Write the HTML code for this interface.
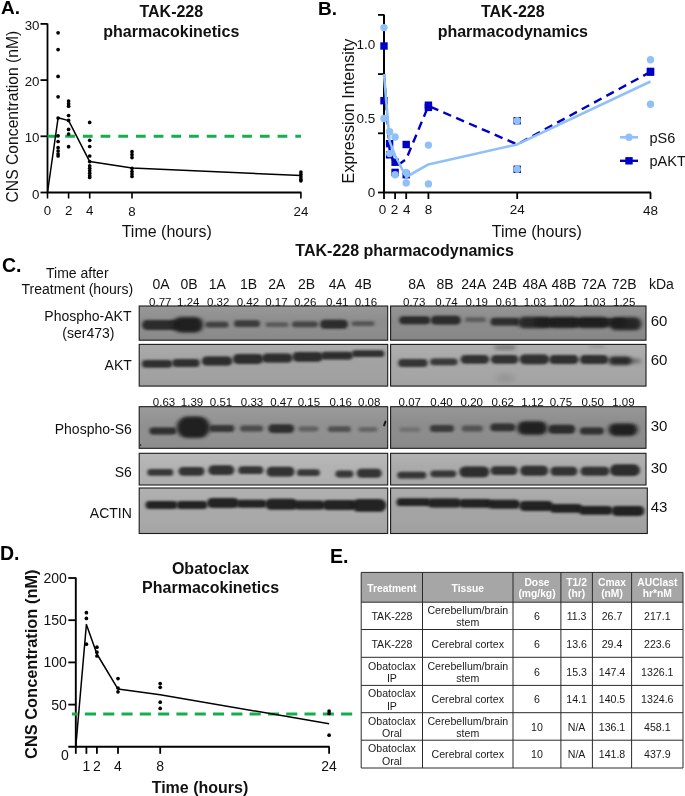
<!DOCTYPE html>
<html><head><meta charset="utf-8"><title>Figure</title>
<style>html,body{margin:0;padding:0;background:#fff}svg{display:block}</style></head>
<body>
<svg width="685" height="796" viewBox="0 0 685 796" font-family="Liberation Sans, Arial, sans-serif">
<defs>
<filter id="b1" x="-20%" y="-60%" width="140%" height="220%"><feGaussianBlur stdDeviation="1.6 1.25"/></filter>
<filter id="b2" x="-20%" y="-60%" width="140%" height="220%"><feGaussianBlur stdDeviation="2.2 1.6"/></filter>
<filter id="b3" x="-30%" y="-80%" width="160%" height="260%"><feGaussianBlur stdDeviation="3 2.2"/></filter>
<linearGradient id="gtop" x1="0" y1="0" x2="0" y2="1"><stop offset="0" stop-color="#fff" stop-opacity="0.10"/><stop offset="0.45" stop-color="#fff" stop-opacity="0"/><stop offset="1" stop-color="#000" stop-opacity="0.03"/></linearGradient>
</defs>
<rect width="685" height="796" fill="#fff"/>
<g opacity="0.999">
<g id="panelA">
<text x="1.0" y="14.2" font-size="19" font-weight="bold" text-anchor="start" fill="#000" >A.</text>
<text x="171.3" y="16.9" font-size="16" font-weight="bold" text-anchor="middle" fill="#111" >TAK-228</text>
<text x="171.3" y="36.5" font-size="16" font-weight="bold" text-anchor="middle" fill="#111" >pharmacokinetics</text>
<path d="M47.5 23.400000000000006 V192.5 H301.44" fill="none" stroke="#000" stroke-width="1.8"/>
<line x1="40.5" x2="47.5" y1="192.5" y2="192.5" stroke="#000" stroke-width="1.8"/>
<text x="39.5" y="198.5" font-size="13.3" font-weight="normal" text-anchor="end" fill="#111" >0</text>
<line x1="40.5" x2="47.5" y1="136.3" y2="136.3" stroke="#000" stroke-width="1.8"/>
<text x="39.5" y="142.3" font-size="13.3" font-weight="normal" text-anchor="end" fill="#111" >10</text>
<line x1="40.5" x2="47.5" y1="80.1" y2="80.1" stroke="#000" stroke-width="1.8"/>
<text x="39.5" y="86.1" font-size="13.3" font-weight="normal" text-anchor="end" fill="#111" >20</text>
<line x1="40.5" x2="47.5" y1="23.9" y2="23.9" stroke="#000" stroke-width="1.8"/>
<text x="39.5" y="29.9" font-size="13.3" font-weight="normal" text-anchor="end" fill="#111" >30</text>
<line x1="47.5" x2="47.5" y1="192.5" y2="198.5" stroke="#000" stroke-width="1.6"/>
<text x="47.5" y="215.1" font-size="13.3" font-weight="normal" text-anchor="middle" fill="#111" >0</text>
<line x1="68.6" x2="68.6" y1="192.5" y2="198.5" stroke="#000" stroke-width="1.6"/>
<text x="68.6" y="215.1" font-size="13.3" font-weight="normal" text-anchor="middle" fill="#111" >2</text>
<line x1="89.7" x2="89.7" y1="192.5" y2="198.5" stroke="#000" stroke-width="1.6"/>
<text x="89.7" y="215.1" font-size="13.3" font-weight="normal" text-anchor="middle" fill="#111" >4</text>
<line x1="132.0" x2="132.0" y1="192.5" y2="198.5" stroke="#000" stroke-width="1.6"/>
<text x="132.0" y="215.7" font-size="13.3" font-weight="normal" text-anchor="middle" fill="#111" >8</text>
<line x1="300.9" x2="300.9" y1="192.5" y2="198.5" stroke="#000" stroke-width="1.6"/>
<text x="300.9" y="215.7" font-size="13.3" font-weight="normal" text-anchor="middle" fill="#111" >24</text>
<text x="166.7" y="237.3" font-size="16" font-weight="normal" text-anchor="middle" fill="#111" >Time (hours)</text>
<text transform="translate(18.3,116.6) rotate(-90)" font-size="15.7" text-anchor="middle" fill="#111">CNS Concentration (nM)</text>
<line x1="47.5" x2="300.94" y1="136.3" y2="136.3" stroke="#14ae4f" stroke-width="3" stroke-dasharray="9.7 8"/>
<polyline fill="none" stroke="#000" stroke-width="1.5" stroke-linejoin="round" points="47.5,192.5 58.1,117.8 68.6,120.6 89.7,161.6 132.0,168.1 300.9,175.6"/>
<circle cx="58.1" cy="32.8" r="1.85" fill="#000"/>
<circle cx="58.1" cy="49.6" r="1.85" fill="#000"/>
<circle cx="58.1" cy="76.4" r="1.85" fill="#000"/>
<circle cx="58.1" cy="96.8" r="1.85" fill="#000"/>
<circle cx="58.1" cy="118" r="1.85" fill="#000"/>
<circle cx="58.1" cy="135.8" r="1.85" fill="#000"/>
<circle cx="58.1" cy="141.5" r="1.85" fill="#000"/>
<circle cx="58.1" cy="147.7" r="1.85" fill="#000"/>
<circle cx="58.1" cy="151" r="1.85" fill="#000"/>
<circle cx="58.1" cy="154" r="1.85" fill="#000"/>
<circle cx="58.1" cy="156" r="1.85" fill="#000"/>
<circle cx="68.6" cy="101" r="1.85" fill="#000"/>
<circle cx="68.6" cy="103.7" r="1.85" fill="#000"/>
<circle cx="68.6" cy="106.2" r="1.85" fill="#000"/>
<circle cx="68.6" cy="115.5" r="1.85" fill="#000"/>
<circle cx="68.6" cy="120.4" r="1.85" fill="#000"/>
<circle cx="68.6" cy="129.4" r="1.85" fill="#000"/>
<circle cx="68.6" cy="134" r="1.85" fill="#000"/>
<circle cx="68.6" cy="146.7" r="1.85" fill="#000"/>
<circle cx="89.7" cy="122.4" r="1.85" fill="#000"/>
<circle cx="89.7" cy="140.3" r="1.85" fill="#000"/>
<circle cx="89.7" cy="146.5" r="1.85" fill="#000"/>
<circle cx="89.7" cy="156" r="1.85" fill="#000"/>
<circle cx="89.7" cy="161.6" r="1.85" fill="#000"/>
<circle cx="89.7" cy="165.8" r="1.85" fill="#000"/>
<circle cx="89.7" cy="168.3" r="1.85" fill="#000"/>
<circle cx="89.7" cy="170.8" r="1.85" fill="#000"/>
<circle cx="89.7" cy="173.3" r="1.85" fill="#000"/>
<circle cx="89.7" cy="175.8" r="1.85" fill="#000"/>
<circle cx="89.7" cy="177.5" r="1.85" fill="#000"/>
<circle cx="132.0" cy="151.7" r="1.85" fill="#000"/>
<circle cx="132.0" cy="154.7" r="1.85" fill="#000"/>
<circle cx="132.0" cy="157.6" r="1.85" fill="#000"/>
<circle cx="132.0" cy="168.3" r="1.85" fill="#000"/>
<circle cx="132.0" cy="171.5" r="1.85" fill="#000"/>
<circle cx="132.0" cy="174" r="1.85" fill="#000"/>
<circle cx="132.0" cy="176.5" r="1.85" fill="#000"/>
<circle cx="300.9" cy="172" r="1.85" fill="#000"/>
<circle cx="300.9" cy="174.4" r="1.85" fill="#000"/>
<circle cx="300.9" cy="177" r="1.85" fill="#000"/>
<circle cx="300.9" cy="179.4" r="1.85" fill="#000"/>
<circle cx="300.9" cy="180.8" r="1.85" fill="#000"/>
</g>
<g id="panelB">
<text x="318.0" y="15.4" font-size="19" font-weight="bold" text-anchor="start" fill="#000" >B.</text>
<text x="512.8" y="17.2" font-size="16" font-weight="bold" text-anchor="middle" fill="#111" >TAK-228</text>
<text x="512.8" y="36.7" font-size="16" font-weight="bold" text-anchor="middle" fill="#111" >pharmacodynamics</text>
<text x="536.9" y="236.5" font-size="16" font-weight="normal" text-anchor="middle" fill="#111" >Time (hours)</text>
<text transform="translate(354.3,111) rotate(-90)" font-size="16.2" text-anchor="middle" fill="#111">Expression Intensity</text>
<text x="375.3" y="196.8" font-size="13.5" font-weight="normal" text-anchor="end" fill="#111" >0</text>
<text x="375.3" y="122.8" font-size="13.5" font-weight="normal" text-anchor="end" fill="#111" >0.5</text>
<text x="375.3" y="48.8" font-size="13.5" font-weight="normal" text-anchor="end" fill="#111" >1.0</text>
<text x="382.5" y="213.5" font-size="13.5" font-weight="normal" text-anchor="middle" fill="#111" >0</text>
<text x="394.6" y="213.5" font-size="13.5" font-weight="normal" text-anchor="middle" fill="#111" >2</text>
<text x="406.7" y="213.5" font-size="13.5" font-weight="normal" text-anchor="middle" fill="#111" >4</text>
<text x="428.4" y="213.5" font-size="13.5" font-weight="normal" text-anchor="middle" fill="#111" >8</text>
<text x="517.2" y="213.5" font-size="13.5" font-weight="normal" text-anchor="middle" fill="#111" >24</text>
<text x="650.5" y="215.0" font-size="13.5" font-weight="normal" text-anchor="middle" fill="#111" >48</text>
<polyline fill="none" stroke="#0000c4" stroke-width="2.4" stroke-dasharray="8.5 5.5" stroke-linejoin="round" points="384.0,74.1 389.6,149.6 395.1,167.3 406.2,159.2 428.4,105.9 517.2,144.4 650.5,71.9"/>
<path d="M384 14.400000000000006 V192.5 H650.996" fill="none" stroke="#000" stroke-width="2"/>
<line x1="378" x2="384" y1="192.5" y2="192.5" stroke="#000" stroke-width="1.8"/>
<line x1="378" x2="384" y1="133.3" y2="133.3" stroke="#000" stroke-width="1.8"/>
<line x1="378" x2="384" y1="74.1" y2="74.1" stroke="#000" stroke-width="1.8"/>
<line x1="378" x2="384" y1="14.9" y2="14.9" stroke="#000" stroke-width="1.8"/>
<line x1="384.0" x2="384.0" y1="192.5" y2="199.0" stroke="#000" stroke-width="1.8"/>
<line x1="395.1" x2="395.1" y1="192.5" y2="199.0" stroke="#000" stroke-width="1.8"/>
<line x1="406.2" x2="406.2" y1="192.5" y2="199.0" stroke="#000" stroke-width="1.8"/>
<line x1="428.4" x2="428.4" y1="192.5" y2="199.0" stroke="#000" stroke-width="1.8"/>
<line x1="517.2" x2="517.2" y1="192.5" y2="199.0" stroke="#000" stroke-width="1.8"/>
<line x1="650.5" x2="650.5" y1="192.5" y2="199.0" stroke="#000" stroke-width="1.8"/>
<rect x="380.3" y="42.3" width="7.4" height="7.4" fill="#0000c4"/>
<rect x="380.3" y="97.0" width="7.4" height="7.4" fill="#0000c4"/>
<rect x="385.9" y="140.0" width="7.4" height="7.4" fill="#0000c4"/>
<rect x="385.9" y="151.1" width="7.4" height="7.4" fill="#0000c4"/>
<rect x="391.4" y="158.5" width="7.4" height="7.4" fill="#0000c4"/>
<rect x="391.4" y="168.7" width="7.4" height="7.4" fill="#0000c4"/>
<rect x="402.5" y="140.8" width="7.4" height="7.4" fill="#0000c4"/>
<rect x="402.5" y="171.0" width="7.4" height="7.4" fill="#0000c4"/>
<rect x="424.7" y="101.5" width="7.4" height="7.4" fill="#0000c4"/>
<rect x="424.7" y="103.7" width="7.4" height="7.4" fill="#0000c4"/>
<rect x="513.5" y="117.0" width="7.4" height="7.4" fill="#0000c4"/>
<rect x="513.5" y="165.6" width="7.4" height="7.4" fill="#0000c4"/>
<rect x="646.8" y="67.7" width="7.4" height="7.4" fill="#0000c4"/>
<rect x="646.8" y="68.5" width="7.4" height="7.4" fill="#0000c4"/>
<polyline fill="none" stroke="#8fc0f7" stroke-width="2.6" stroke-linejoin="round" points="384.0,74.1 389.6,141.4 395.1,155.5 406.2,177.0 428.4,164.4 517.2,144.4 650.5,81.5"/>
<circle cx="384.0" cy="27.6" r="3.7" fill="#8fc0f7"/>
<circle cx="384.0" cy="118.5" r="3.7" fill="#8fc0f7"/>
<circle cx="389.6" cy="131.8" r="3.7" fill="#8fc0f7"/>
<circle cx="389.6" cy="153.6" r="3.7" fill="#8fc0f7"/>
<circle cx="395.1" cy="137.0" r="3.7" fill="#8fc0f7"/>
<circle cx="395.1" cy="174.7" r="3.7" fill="#8fc0f7"/>
<circle cx="406.2" cy="172.4" r="3.7" fill="#8fc0f7"/>
<circle cx="406.2" cy="182.9" r="3.7" fill="#8fc0f7"/>
<circle cx="428.4" cy="145.1" r="3.7" fill="#8fc0f7"/>
<circle cx="428.4" cy="183.9" r="3.7" fill="#8fc0f7"/>
<circle cx="517.2" cy="120.7" r="3.7" fill="#8fc0f7"/>
<circle cx="517.2" cy="169.3" r="3.7" fill="#8fc0f7"/>
<circle cx="650.5" cy="59.7" r="3.7" fill="#8fc0f7"/>
<circle cx="650.5" cy="104.3" r="3.7" fill="#8fc0f7"/>
<line x1="620" x2="638" y1="137.3" y2="137.3" stroke="#8fc0f7" stroke-width="2.6"/><circle cx="629" cy="137.3" r="3.7" fill="#8fc0f7"/>
<text x="649.5" y="142.5" font-size="14.5" font-weight="normal" text-anchor="start" fill="#111" >pS6</text>
<line x1="620" x2="638" y1="160.8" y2="160.8" stroke="#0000c4" stroke-width="2.4"/><rect x="625.3" y="157.1" width="7.4" height="7.4" fill="#0000c4"/>
<text x="649.5" y="166.0" font-size="14.5" font-weight="normal" text-anchor="start" fill="#111" >pAKT</text>
</g>
<g id="panelC">
<text x="404.6" y="256.0" font-size="16" font-weight="bold" text-anchor="middle" fill="#111" >TAK-228 pharmacodynamics</text>
<text x="2.0" y="272.0" font-size="19.5" font-weight="bold" text-anchor="start" fill="#000" >C.</text>
<text x="77.3" y="277.8" font-size="14" font-weight="normal" text-anchor="middle" fill="#111" >Time after</text>
<text x="77.3" y="294.2" font-size="14" font-weight="normal" text-anchor="middle" fill="#111" >Treatment (hours)</text>
<text x="87.9" y="320.7" font-size="14" font-weight="normal" text-anchor="middle" fill="#111" >Phospho-AKT</text>
<text x="88.4" y="338.0" font-size="14" font-weight="normal" text-anchor="middle" fill="#111" >(ser473)</text>
<text x="131.8" y="370.4" font-size="14" font-weight="normal" text-anchor="end" fill="#111" >AKT</text>
<text x="131.8" y="433.5" font-size="14" font-weight="normal" text-anchor="end" fill="#111" >Phospho-S6</text>
<text x="131.8" y="477.3" font-size="14" font-weight="normal" text-anchor="end" fill="#111" >S6</text>
<text x="131.8" y="518.0" font-size="14" font-weight="normal" text-anchor="end" fill="#111" >ACTIN</text>
<text x="161.0" y="289.0" font-size="14" font-weight="normal" text-anchor="middle" fill="#111" >0A</text>
<text x="189.0" y="289.0" font-size="14" font-weight="normal" text-anchor="middle" fill="#111" >0B</text>
<text x="217.3" y="289.0" font-size="14" font-weight="normal" text-anchor="middle" fill="#111" >1A</text>
<text x="248.6" y="289.0" font-size="14" font-weight="normal" text-anchor="middle" fill="#111" >1B</text>
<text x="276.9" y="289.0" font-size="14" font-weight="normal" text-anchor="middle" fill="#111" >2A</text>
<text x="306.6" y="289.0" font-size="14" font-weight="normal" text-anchor="middle" fill="#111" >2B</text>
<text x="337.3" y="289.0" font-size="14" font-weight="normal" text-anchor="middle" fill="#111" >4A</text>
<text x="363.2" y="289.0" font-size="14" font-weight="normal" text-anchor="middle" fill="#111" >4B</text>
<text x="416.7" y="289.0" font-size="14" font-weight="normal" text-anchor="middle" fill="#111" >8A</text>
<text x="445.0" y="289.0" font-size="14" font-weight="normal" text-anchor="middle" fill="#111" >8B</text>
<text x="473.8" y="289.0" font-size="14" font-weight="normal" text-anchor="middle" fill="#111" >24A</text>
<text x="504.6" y="289.0" font-size="14" font-weight="normal" text-anchor="middle" fill="#111" >24B</text>
<text x="534.9" y="289.0" font-size="14" font-weight="normal" text-anchor="middle" fill="#111" >48A</text>
<text x="563.9" y="289.0" font-size="14" font-weight="normal" text-anchor="middle" fill="#111" >48B</text>
<text x="593.9" y="289.0" font-size="14" font-weight="normal" text-anchor="middle" fill="#111" >72A</text>
<text x="624.2" y="289.0" font-size="14" font-weight="normal" text-anchor="middle" fill="#111" >72B</text>
<text x="661.4" y="289.0" font-size="14" font-weight="normal" text-anchor="middle" fill="#111" >kDa</text>
<text x="659.0" y="325.5" font-size="15" font-weight="normal" text-anchor="middle" fill="#111" >60</text>
<text x="659.0" y="365.3" font-size="15" font-weight="normal" text-anchor="middle" fill="#111" >60</text>
<text x="659.0" y="431.3" font-size="15" font-weight="normal" text-anchor="middle" fill="#111" >30</text>
<text x="659.0" y="473.2" font-size="15" font-weight="normal" text-anchor="middle" fill="#111" >30</text>
<text x="659.0" y="511.5" font-size="15" font-weight="normal" text-anchor="middle" fill="#111" >43</text>
<clipPath id="cl0"><rect x="139.2" y="306" width="248.5" height="34.2"/></clipPath>
<clipPath id="cr0"><rect x="390.6" y="306" width="255.4" height="34.2"/></clipPath>
<rect x="139.2" y="306" width="248.5" height="34.2" fill="#8d8d8d"/>
<rect x="390.6" y="306" width="255.4" height="34.2" fill="#8a8a8a"/>
<rect x="139.2" y="306" width="248.5" height="34.2" fill="url(#gtop)"/>
<rect x="390.6" y="306" width="255.4" height="34.2" fill="url(#gtop)"/>
<g clip-path="url(#cl0)">
<rect x="142.0" y="320.1" width="38.0" height="9.9" rx="5.0" fill="#1a1a1a" opacity="0.85" filter="url(#b1)"/>
<rect x="173.0" y="316.9" width="30.0" height="15.5" rx="7.8" fill="#1a1a1a" opacity="0.96" filter="url(#b2)"/>
<rect x="205.5" y="321.8" width="23.0" height="5.8" rx="2.9" fill="#1a1a1a" opacity="0.68" filter="url(#b1)"/>
<rect x="234.0" y="320.3" width="26.0" height="6.8" rx="3.4" fill="#1a1a1a" opacity="0.72" filter="url(#b1)"/>
<rect x="265.5" y="322.3" width="23.0" height="4.8" rx="2.4" fill="#1a1a1a" opacity="0.45" filter="url(#b1)"/>
<rect x="292.0" y="321.4" width="26.0" height="5.8" rx="2.9" fill="#1a1a1a" opacity="0.63" filter="url(#b1)"/>
<rect x="320.0" y="319.8" width="28.0" height="8.9" rx="4.5" fill="#1a1a1a" opacity="0.85" filter="url(#b1)"/>
<rect x="351.5" y="321.3" width="23.0" height="4.8" rx="2.4" fill="#1a1a1a" opacity="0.50" filter="url(#b1)"/>
</g>
<g clip-path="url(#cr0)">
<rect x="399.2" y="316.3" width="31.0" height="7.9" rx="4.0" fill="#1a1a1a" opacity="0.85" filter="url(#b1)"/>
<rect x="430.8" y="315.7" width="30.0" height="8.9" rx="4.5" fill="#1a1a1a" opacity="0.85" filter="url(#b1)"/>
<rect x="465.0" y="317.2" width="21.0" height="4.8" rx="2.4" fill="#1a1a1a" opacity="0.41" filter="url(#b1)"/>
<rect x="490.5" y="317.7" width="29.0" height="7.9" rx="4.0" fill="#1a1a1a" opacity="0.83" filter="url(#b1)"/>
<rect x="518.0" y="316.8" width="34.0" height="11.5" rx="5.8" fill="#1a1a1a" opacity="0.89" filter="url(#b2)"/>
<rect x="548.0" y="317.1" width="32.0" height="11.0" rx="5.5" fill="#1a1a1a" opacity="0.89" filter="url(#b2)"/>
<rect x="577.0" y="317.1" width="32.0" height="11.0" rx="5.5" fill="#1a1a1a" opacity="0.89" filter="url(#b2)"/>
<rect x="609.4" y="317.3" width="32.0" height="13.0" rx="6.5" fill="#1a1a1a" opacity="0.91" filter="url(#b2)"/>
<rect x="534.5" y="318.3" width="91.0" height="7.9" rx="4.0" fill="#1a1a1a" opacity="0.81" filter="url(#b1)"/>
</g>
<rect x="139.2" y="306" width="248.5" height="34.2" fill="none" stroke="#1c1c1c" stroke-width="1.1"/>
<rect x="390.6" y="306" width="255.4" height="34.2" fill="none" stroke="#1c1c1c" stroke-width="1.1"/>
<clipPath id="cl1"><rect x="139.2" y="344.4" width="248.5" height="41.7"/></clipPath>
<clipPath id="cr1"><rect x="390.6" y="344.4" width="255.4" height="41.7"/></clipPath>
<rect x="139.2" y="344.4" width="248.5" height="41.7" fill="#a2a2a2"/>
<rect x="390.6" y="344.4" width="255.4" height="41.7" fill="#a6a6a6"/>
<rect x="139.2" y="344.4" width="248.5" height="41.7" fill="url(#gtop)"/>
<rect x="390.6" y="344.4" width="255.4" height="41.7" fill="url(#gtop)"/>
<g clip-path="url(#cl1)">
<rect x="141.8" y="359.9" width="30.5" height="7.9" rx="4.0" fill="#1a1a1a" opacity="0.85" filter="url(#b1)"/>
<rect x="172.2" y="359.1" width="27.5" height="7.9" rx="4.0" fill="#1a1a1a" opacity="0.85" filter="url(#b1)"/>
<rect x="201.8" y="356.6" width="30.5" height="8.9" rx="4.5" fill="#1a1a1a" opacity="0.87" filter="url(#b1)"/>
<rect x="232.8" y="354.1" width="30.5" height="9.9" rx="5.0" fill="#1a1a1a" opacity="0.87" filter="url(#b1)"/>
<rect x="262.1" y="353.6" width="30.5" height="8.9" rx="4.5" fill="#1a1a1a" opacity="0.87" filter="url(#b1)"/>
<rect x="292.4" y="351.9" width="30.5" height="9.9" rx="5.0" fill="#1a1a1a" opacity="0.87" filter="url(#b1)"/>
<rect x="321.2" y="351.7" width="31.5" height="7.9" rx="4.0" fill="#1a1a1a" opacity="0.87" filter="url(#b1)"/>
<rect x="351.8" y="350.2" width="32.5" height="6.9" rx="3.5" fill="#1a1a1a" opacity="0.85" filter="url(#b1)"/>
</g>
<g clip-path="url(#cr1)">
<rect x="398.1" y="359.1" width="29.5" height="7.9" rx="4.0" fill="#1a1a1a" opacity="0.81" filter="url(#b1)"/>
<rect x="430.1" y="358.4" width="27.5" height="6.9" rx="3.5" fill="#1a1a1a" opacity="0.79" filter="url(#b1)"/>
<rect x="460.6" y="354.9" width="28.5" height="8.9" rx="4.5" fill="#1a1a1a" opacity="0.84" filter="url(#b1)"/>
<rect x="490.9" y="354.9" width="27.5" height="8.9" rx="4.5" fill="#1a1a1a" opacity="0.84" filter="url(#b1)"/>
<rect x="519.6" y="354.4" width="29.5" height="9.9" rx="5.0" fill="#1a1a1a" opacity="0.85" filter="url(#b1)"/>
<rect x="549.1" y="355.1" width="29.5" height="8.9" rx="4.5" fill="#1a1a1a" opacity="0.85" filter="url(#b1)"/>
<rect x="579.8" y="355.1" width="28.5" height="8.9" rx="4.5" fill="#1a1a1a" opacity="0.85" filter="url(#b1)"/>
<rect x="608.5" y="356.4" width="23.0" height="8.5" rx="4.2" fill="#1a1a1a" opacity="0.89" filter="url(#b2)"/>
<rect x="627.5" y="358.2" width="13.0" height="5.5" rx="2.8" fill="#1a1a1a" opacity="0.34" filter="url(#b2)"/>
<rect x="494.5" y="344.8" width="21.0" height="5.5" rx="2.8" fill="#1a1a1a" opacity="0.29" filter="url(#b2)"/>
<rect x="496.5" y="373.8" width="17.0" height="8.5" rx="4.2" fill="#1a1a1a" opacity="0.10" filter="url(#b3)"/>
<rect x="589.5" y="344.8" width="15.0" height="3.5" rx="1.8" fill="#1a1a1a" opacity="0.14" filter="url(#b2)"/>
</g>
<rect x="139.2" y="344.4" width="248.5" height="41.7" fill="none" stroke="#1c1c1c" stroke-width="1.1"/>
<rect x="390.6" y="344.4" width="255.4" height="41.7" fill="none" stroke="#1c1c1c" stroke-width="1.1"/>
<clipPath id="cl2"><rect x="139.2" y="406.7" width="248.5" height="41.6"/></clipPath>
<clipPath id="cr2"><rect x="390.6" y="406.7" width="255.4" height="41.6"/></clipPath>
<rect x="139.2" y="406.7" width="248.5" height="41.6" fill="#909090"/>
<rect x="390.6" y="406.7" width="255.4" height="41.6" fill="#8c8c8c"/>
<rect x="139.2" y="406.7" width="248.5" height="41.6" fill="url(#gtop)"/>
<rect x="390.6" y="406.7" width="255.4" height="41.6" fill="url(#gtop)"/>
<g clip-path="url(#cl2)">
<rect x="149.3" y="427.6" width="27.0" height="6.9" rx="3.5" fill="#1a1a1a" opacity="0.83" filter="url(#b1)"/>
<rect x="176.8" y="416.6" width="33.0" height="21.5" rx="10.8" fill="#1a1a1a" opacity="0.96" filter="url(#b2)"/>
<rect x="209.3" y="425.1" width="25.0" height="6.9" rx="3.5" fill="#1a1a1a" opacity="0.77" filter="url(#b1)"/>
<rect x="240.1" y="425.6" width="23.0" height="5.8" rx="2.9" fill="#1a1a1a" opacity="0.59" filter="url(#b1)"/>
<rect x="268.2" y="424.2" width="26.0" height="8.9" rx="4.5" fill="#1a1a1a" opacity="0.83" filter="url(#b1)"/>
<rect x="298.4" y="426.6" width="20.0" height="4.8" rx="2.4" fill="#1a1a1a" opacity="0.41" filter="url(#b1)"/>
<rect x="327.9" y="426.3" width="23.0" height="5.8" rx="2.9" fill="#1a1a1a" opacity="0.54" filter="url(#b1)"/>
<rect x="358.5" y="427.1" width="19.0" height="4.8" rx="2.4" fill="#1a1a1a" opacity="0.36" filter="url(#b1)"/>
<rect x="383.8" y="420.5" width="2" height="6" rx="1.0" fill="#1a1a1a" transform="rotate(20 384.8 423.5)"/>
<rect x="139.8" y="444.2" width="1.6" height="1.6" rx="0.8" fill="#1a1a1a" transform="rotate(20 140.6 445)"/>
</g>
<g clip-path="url(#cr2)">
<rect x="399.3" y="427.3" width="21.0" height="4.8" rx="2.4" fill="#1a1a1a" opacity="0.23" filter="url(#b1)"/>
<rect x="430.0" y="425.1" width="24.0" height="6.8" rx="3.4" fill="#1a1a1a" opacity="0.72" filter="url(#b1)"/>
<rect x="461.8" y="425.6" width="21.0" height="5.8" rx="2.9" fill="#1a1a1a" opacity="0.50" filter="url(#b1)"/>
<rect x="490.3" y="423.4" width="25.0" height="7.9" rx="4.0" fill="#1a1a1a" opacity="0.81" filter="url(#b1)"/>
<rect x="517.2" y="421.2" width="30.0" height="13.5" rx="6.8" fill="#1a1a1a" opacity="0.96" filter="url(#b2)"/>
<rect x="548.2" y="424.8" width="27.0" height="8.9" rx="4.5" fill="#1a1a1a" opacity="0.85" filter="url(#b1)"/>
<rect x="579.9" y="427.6" width="24.0" height="6.8" rx="3.4" fill="#1a1a1a" opacity="0.81" filter="url(#b1)"/>
<rect x="608.5" y="423.4" width="29.0" height="12.5" rx="6.2" fill="#1a1a1a" opacity="0.96" filter="url(#b2)"/>
</g>
<rect x="139.2" y="406.7" width="248.5" height="41.6" fill="none" stroke="#1c1c1c" stroke-width="1.1"/>
<rect x="390.6" y="406.7" width="255.4" height="41.6" fill="none" stroke="#1c1c1c" stroke-width="1.1"/>
<clipPath id="cl3"><rect x="139.2" y="453.3" width="248.5" height="31.7"/></clipPath>
<clipPath id="cr3"><rect x="390.6" y="453.3" width="255.4" height="31.7"/></clipPath>
<rect x="139.2" y="453.3" width="248.5" height="31.7" fill="#b2b2b2"/>
<rect x="390.6" y="453.3" width="255.4" height="31.7" fill="#aaaaaa"/>
<rect x="139.2" y="453.3" width="248.5" height="31.7" fill="url(#gtop)"/>
<rect x="390.6" y="453.3" width="255.4" height="31.7" fill="url(#gtop)"/>
<g clip-path="url(#cl3)">
<rect x="147.3" y="469.0" width="26.0" height="6.8" rx="3.4" fill="#1a1a1a" opacity="0.81" filter="url(#b1)"/>
<rect x="178.5" y="466.9" width="26.0" height="8.9" rx="4.5" fill="#1a1a1a" opacity="0.84" filter="url(#b1)"/>
<rect x="208.3" y="465.2" width="26.0" height="9.9" rx="5.0" fill="#1a1a1a" opacity="0.85" filter="url(#b1)"/>
<rect x="238.3" y="466.2" width="25.0" height="7.9" rx="4.0" fill="#1a1a1a" opacity="0.84" filter="url(#b1)"/>
<rect x="266.5" y="466.7" width="28.0" height="9.9" rx="5.0" fill="#1a1a1a" opacity="0.85" filter="url(#b1)"/>
<rect x="296.9" y="469.2" width="23.0" height="6.9" rx="3.5" fill="#1a1a1a" opacity="0.81" filter="url(#b1)"/>
<rect x="335.4" y="470.6" width="18.0" height="6.9" rx="3.5" fill="#1a1a1a" opacity="0.81" filter="url(#b1)"/>
<rect x="356.7" y="468.8" width="25.0" height="8.9" rx="4.5" fill="#1a1a1a" opacity="0.84" filter="url(#b1)"/>
</g>
<g clip-path="url(#cr3)">
<rect x="397.3" y="471.7" width="29.0" height="6.9" rx="3.5" fill="#1a1a1a" opacity="0.81" filter="url(#b1)"/>
<rect x="430.3" y="470.4" width="26.0" height="6.9" rx="3.5" fill="#1a1a1a" opacity="0.81" filter="url(#b1)"/>
<rect x="459.3" y="466.4" width="30.0" height="10.9" rx="5.5" fill="#1a1a1a" opacity="0.87" filter="url(#b1)"/>
<rect x="490.5" y="466.2" width="27.0" height="8.9" rx="4.5" fill="#1a1a1a" opacity="0.84" filter="url(#b1)"/>
<rect x="520.2" y="465.8" width="28.0" height="9.9" rx="5.0" fill="#1a1a1a" opacity="0.85" filter="url(#b1)"/>
<rect x="550.4" y="466.8" width="27.0" height="8.9" rx="4.5" fill="#1a1a1a" opacity="0.84" filter="url(#b1)"/>
<rect x="580.4" y="466.8" width="29.0" height="8.9" rx="4.5" fill="#1a1a1a" opacity="0.84" filter="url(#b1)"/>
<rect x="609.9" y="464.2" width="30.0" height="11.9" rx="6.0" fill="#1a1a1a" opacity="0.88" filter="url(#b1)"/>
</g>
<rect x="139.2" y="453.3" width="248.5" height="31.7" fill="none" stroke="#1c1c1c" stroke-width="1.1"/>
<rect x="390.6" y="453.3" width="255.4" height="31.7" fill="none" stroke="#1c1c1c" stroke-width="1.1"/>
<clipPath id="cl4"><rect x="139.2" y="488" width="248.5" height="45.5"/></clipPath>
<clipPath id="cr4"><rect x="390.6" y="488" width="256.7" height="45.5"/></clipPath>
<rect x="139.2" y="488" width="248.5" height="45.5" fill="#a9a9a9"/>
<rect x="390.6" y="488" width="256.7" height="45.5" fill="#a4a4a4"/>
<rect x="139.2" y="488" width="248.5" height="45.5" fill="url(#gtop)"/>
<rect x="390.6" y="488" width="256.7" height="45.5" fill="url(#gtop)"/>
<g clip-path="url(#cl4)">
<rect x="145.5" y="501.1" width="32.0" height="7.9" rx="4.0" fill="#1a1a1a" opacity="0.95" filter="url(#b1)"/>
<rect x="176.5" y="501.1" width="31.0" height="7.9" rx="4.0" fill="#1a1a1a" opacity="0.95" filter="url(#b1)"/>
<rect x="207.0" y="498.1" width="32.0" height="9.9" rx="5.0" fill="#1a1a1a" opacity="0.95" filter="url(#b1)"/>
<rect x="236.6" y="499.8" width="30.0" height="7.9" rx="4.0" fill="#1a1a1a" opacity="0.95" filter="url(#b1)"/>
<rect x="265.0" y="498.8" width="33.0" height="10.9" rx="5.5" fill="#1a1a1a" opacity="0.95" filter="url(#b1)"/>
<rect x="294.1" y="500.6" width="31.0" height="8.9" rx="4.5" fill="#1a1a1a" opacity="0.95" filter="url(#b1)"/>
<rect x="322.4" y="500.1" width="34.0" height="9.9" rx="5.0" fill="#1a1a1a" opacity="0.95" filter="url(#b1)"/>
<rect x="352.2" y="498.9" width="34.0" height="12.9" rx="6.5" fill="#1a1a1a" opacity="0.95" filter="url(#b1)"/>
</g>
<g clip-path="url(#cr4)">
<rect x="396.5" y="498.2" width="34.0" height="7.9" rx="4.0" fill="#1a1a1a" opacity="0.95" filter="url(#b1)"/>
<rect x="427.5" y="498.6" width="34.0" height="8.9" rx="4.5" fill="#1a1a1a" opacity="0.95" filter="url(#b1)"/>
<rect x="459.0" y="498.9" width="33.0" height="8.9" rx="4.5" fill="#1a1a1a" opacity="0.95" filter="url(#b1)"/>
<rect x="488.0" y="499.8" width="32.0" height="8.9" rx="4.5" fill="#1a1a1a" opacity="0.95" filter="url(#b1)"/>
<rect x="519.2" y="501.1" width="34.0" height="9.9" rx="5.0" fill="#1a1a1a" opacity="0.95" filter="url(#b1)"/>
<rect x="549.4" y="503.9" width="33.0" height="8.9" rx="4.5" fill="#1a1a1a" opacity="0.95" filter="url(#b1)"/>
<rect x="578.6" y="505.9" width="34.0" height="8.9" rx="4.5" fill="#1a1a1a" opacity="0.95" filter="url(#b1)"/>
<rect x="611.4" y="506.1" width="33.0" height="9.9" rx="5.0" fill="#1a1a1a" opacity="0.95" filter="url(#b1)"/>
</g>
<rect x="139.2" y="488" width="248.5" height="45.5" fill="none" stroke="#1c1c1c" stroke-width="1.1"/>
<rect x="390.6" y="488" width="256.7" height="45.5" fill="none" stroke="#1c1c1c" stroke-width="1.1"/>
<text x="160.3" y="305.7" font-size="11.5" font-weight="normal" text-anchor="middle" fill="#111" >0.77</text>
<text x="188.3" y="305.7" font-size="11.5" font-weight="normal" text-anchor="middle" fill="#111" >1.24</text>
<text x="218.1" y="305.7" font-size="11.5" font-weight="normal" text-anchor="middle" fill="#111" >0.32</text>
<text x="247.9" y="305.7" font-size="11.5" font-weight="normal" text-anchor="middle" fill="#111" >0.42</text>
<text x="276.4" y="305.7" font-size="11.5" font-weight="normal" text-anchor="middle" fill="#111" >0.17</text>
<text x="305.1" y="305.7" font-size="11.5" font-weight="normal" text-anchor="middle" fill="#111" >0.26</text>
<text x="337.3" y="305.7" font-size="11.5" font-weight="normal" text-anchor="middle" fill="#111" >0.41</text>
<text x="365.9" y="305.7" font-size="11.5" font-weight="normal" text-anchor="middle" fill="#111" >0.16</text>
<text x="414.2" y="305.7" font-size="11.5" font-weight="normal" text-anchor="middle" fill="#111" >0.73</text>
<text x="446.5" y="305.7" font-size="11.5" font-weight="normal" text-anchor="middle" fill="#111" >0.74</text>
<text x="476.8" y="305.7" font-size="11.5" font-weight="normal" text-anchor="middle" fill="#111" >0.19</text>
<text x="506.6" y="305.7" font-size="11.5" font-weight="normal" text-anchor="middle" fill="#111" >0.61</text>
<text x="535.0" y="305.7" font-size="11.5" font-weight="normal" text-anchor="middle" fill="#111" >1.03</text>
<text x="563.9" y="305.7" font-size="11.5" font-weight="normal" text-anchor="middle" fill="#111" >1.02</text>
<text x="594.4" y="305.7" font-size="11.5" font-weight="normal" text-anchor="middle" fill="#111" >1.03</text>
<text x="624.2" y="305.7" font-size="11.5" font-weight="normal" text-anchor="middle" fill="#111" >1.25</text>
<text x="164.0" y="405.8" font-size="11.5" font-weight="normal" text-anchor="middle" fill="#111" >0.63</text>
<text x="192.0" y="405.8" font-size="11.5" font-weight="normal" text-anchor="middle" fill="#111" >1.39</text>
<text x="221.0" y="405.8" font-size="11.5" font-weight="normal" text-anchor="middle" fill="#111" >0.51</text>
<text x="252.0" y="405.8" font-size="11.5" font-weight="normal" text-anchor="middle" fill="#111" >0.33</text>
<text x="281.4" y="405.8" font-size="11.5" font-weight="normal" text-anchor="middle" fill="#111" >0.47</text>
<text x="308.9" y="405.8" font-size="11.5" font-weight="normal" text-anchor="middle" fill="#111" >0.15</text>
<text x="340.6" y="405.8" font-size="11.5" font-weight="normal" text-anchor="middle" fill="#111" >0.16</text>
<text x="369.2" y="405.8" font-size="11.5" font-weight="normal" text-anchor="middle" fill="#111" >0.08</text>
<text x="409.8" y="405.8" font-size="11.5" font-weight="normal" text-anchor="middle" fill="#111" >0.07</text>
<text x="441.5" y="405.8" font-size="11.5" font-weight="normal" text-anchor="middle" fill="#111" >0.40</text>
<text x="471.8" y="405.8" font-size="11.5" font-weight="normal" text-anchor="middle" fill="#111" >0.20</text>
<text x="502.8" y="405.8" font-size="11.5" font-weight="normal" text-anchor="middle" fill="#111" >0.62</text>
<text x="532.5" y="405.8" font-size="11.5" font-weight="normal" text-anchor="middle" fill="#111" >1.12</text>
<text x="560.9" y="405.8" font-size="11.5" font-weight="normal" text-anchor="middle" fill="#111" >0.75</text>
<text x="592.7" y="405.8" font-size="11.5" font-weight="normal" text-anchor="middle" fill="#111" >0.50</text>
<text x="623.4" y="405.8" font-size="11.5" font-weight="normal" text-anchor="middle" fill="#111" >1.09</text>
</g>
<g id="panelD">
<text x="0.0" y="559.8" font-size="19.5" font-weight="bold" text-anchor="start" fill="#000" >D.</text>
<text x="210.6" y="573.6" font-size="16" font-weight="bold" text-anchor="middle" fill="#111" >Obatoclax</text>
<text x="210.6" y="593.0" font-size="16" font-weight="bold" text-anchor="middle" fill="#111" >Pharmacokinetics</text>
<text x="200.0" y="793.0" font-size="16" font-weight="bold" text-anchor="middle" fill="#111" >Time (hours)</text>
<text transform="translate(36.8,664.2) rotate(-90)" font-size="16.4" font-weight="bold" text-anchor="middle" fill="#111">CNS Concentration (nM)</text>
<path d="M75.8 577.5 V746.8" fill="none" stroke="#000" stroke-width="1.9"/>
<path d="M68.3 746.8 H329.644" fill="none" stroke="#000" stroke-width="1.9"/>
<line x1="68.3" x2="75.8" y1="704.6" y2="704.6" stroke="#000" stroke-width="1.8"/>
<text x="66.8" y="709.6" font-size="14" font-weight="normal" text-anchor="end" fill="#111" >50</text>
<line x1="68.3" x2="75.8" y1="662.4" y2="662.4" stroke="#000" stroke-width="1.8"/>
<text x="66.8" y="667.4" font-size="14" font-weight="normal" text-anchor="end" fill="#111" >100</text>
<line x1="68.3" x2="75.8" y1="620.2" y2="620.2" stroke="#000" stroke-width="1.8"/>
<text x="66.8" y="625.2" font-size="14" font-weight="normal" text-anchor="end" fill="#111" >150</text>
<line x1="68.3" x2="75.8" y1="578.0" y2="578.0" stroke="#000" stroke-width="1.8"/>
<text x="66.8" y="583.0" font-size="14" font-weight="normal" text-anchor="end" fill="#111" >200</text>
<text x="65.0" y="760.3" font-size="14" font-weight="normal" text-anchor="middle" fill="#111" >0</text>
<line x1="75.8" x2="75.8" y1="746.8" y2="753.8" stroke="#000" stroke-width="1.8"/>
<line x1="86.4" x2="86.4" y1="746.8" y2="753.8" stroke="#000" stroke-width="1.8"/>
<text x="86.4" y="771.0" font-size="14" font-weight="normal" text-anchor="middle" fill="#111" >1</text>
<line x1="96.9" x2="96.9" y1="746.8" y2="753.8" stroke="#000" stroke-width="1.8"/>
<text x="96.9" y="771.0" font-size="14" font-weight="normal" text-anchor="middle" fill="#111" >2</text>
<line x1="118.0" x2="118.0" y1="746.8" y2="753.8" stroke="#000" stroke-width="1.8"/>
<text x="118.0" y="771.0" font-size="14" font-weight="normal" text-anchor="middle" fill="#111" >4</text>
<line x1="160.2" x2="160.2" y1="746.8" y2="753.8" stroke="#000" stroke-width="1.8"/>
<text x="160.2" y="771.0" font-size="14" font-weight="normal" text-anchor="middle" fill="#111" >8</text>
<line x1="329.1" x2="329.1" y1="746.8" y2="753.8" stroke="#000" stroke-width="1.8"/>
<text x="329.1" y="771.0" font-size="14" font-weight="normal" text-anchor="middle" fill="#111" >24</text>
<line x1="72" x2="359" y1="713.9" y2="713.9" stroke="#14ae4f" stroke-width="3" stroke-dasharray="11.1 7.2" stroke-dashoffset="5.4"/>
<polyline fill="none" stroke="#000" stroke-width="1.5" stroke-linejoin="round" points="75.8,746.8 86.4,624.4 96.9,654.0 118.0,689.1 160.2,694.7 329.1,723.8"/>
<circle cx="86.4" cy="612.7" r="1.85" fill="#000"/>
<circle cx="86.4" cy="618.4" r="1.85" fill="#000"/>
<circle cx="86.4" cy="644.2" r="1.85" fill="#000"/>
<circle cx="96.9" cy="647.2" r="1.85" fill="#000"/>
<circle cx="96.9" cy="652.2" r="1.85" fill="#000"/>
<circle cx="96.9" cy="656" r="1.85" fill="#000"/>
<circle cx="118.0" cy="678.6" r="1.85" fill="#000"/>
<circle cx="118.0" cy="688" r="1.85" fill="#000"/>
<circle cx="118.0" cy="691.8" r="1.85" fill="#000"/>
<circle cx="160.2" cy="683.6" r="1.85" fill="#000"/>
<circle cx="160.2" cy="687.3" r="1.85" fill="#000"/>
<circle cx="160.2" cy="702.2" r="1.85" fill="#000"/>
<circle cx="160.2" cy="708.4" r="1.85" fill="#000"/>
<circle cx="329.1" cy="711.0" r="1.85" fill="#000"/>
<circle cx="329.1" cy="713.5" r="1.85" fill="#000"/>
<circle cx="329.1" cy="735.2" r="1.85" fill="#000"/>
</g>
<g id="panelE">
<text x="330.0" y="562.5" font-size="19.5" font-weight="bold" text-anchor="start" fill="#000" >E.</text>
<rect x="361.2" y="572.4" width="321.8" height="29.8" fill="#a6a6a6"/>
<text x="391.9" y="591.5" font-size="10.3" font-weight="bold" text-anchor="middle" fill="#fff" >Treatment</text>
<text x="467.8" y="591.5" font-size="10.3" font-weight="bold" text-anchor="middle" fill="#fff" >Tissue</text>
<text x="537.0" y="585.6" font-size="10.3" font-weight="bold" text-anchor="middle" fill="#fff" >Dose</text>
<text x="537.0" y="597.4" font-size="10.3" font-weight="bold" text-anchor="middle" fill="#fff" >(mg/kg)</text>
<text x="576.6" y="585.6" font-size="10.3" font-weight="bold" text-anchor="middle" fill="#fff" >T1/2</text>
<text x="576.6" y="597.4" font-size="10.3" font-weight="bold" text-anchor="middle" fill="#fff" >(hr)</text>
<text x="612.0" y="585.6" font-size="10.3" font-weight="bold" text-anchor="middle" fill="#fff" >Cmax</text>
<text x="612.0" y="597.4" font-size="10.3" font-weight="bold" text-anchor="middle" fill="#fff" >(nM)</text>
<text x="657.3" y="585.6" font-size="10.3" font-weight="bold" text-anchor="middle" fill="#fff" >AUClast</text>
<text x="657.3" y="597.4" font-size="10.3" font-weight="bold" text-anchor="middle" fill="#fff" >hr*nM</text>
<text x="391.9" y="620.2" font-size="10.6" font-weight="normal" text-anchor="middle" fill="#1a1a1a" >TAK-228</text>
<text x="467.8" y="614.1" font-size="10.6" font-weight="normal" text-anchor="middle" fill="#1a1a1a" >Cerebellum/brain</text>
<text x="467.8" y="626.3" font-size="10.6" font-weight="normal" text-anchor="middle" fill="#1a1a1a" >stem</text>
<text x="537.0" y="620.2" font-size="10.6" font-weight="normal" text-anchor="middle" fill="#1a1a1a" >6</text>
<text x="576.6" y="620.2" font-size="10.6" font-weight="normal" text-anchor="middle" fill="#1a1a1a" >11.3</text>
<text x="612.0" y="620.2" font-size="10.6" font-weight="normal" text-anchor="middle" fill="#1a1a1a" >26.7</text>
<text x="657.3" y="620.2" font-size="10.6" font-weight="normal" text-anchor="middle" fill="#1a1a1a" >217.1</text>
<text x="391.9" y="647.7" font-size="10.6" font-weight="normal" text-anchor="middle" fill="#1a1a1a" >TAK-228</text>
<text x="467.8" y="647.7" font-size="10.6" font-weight="normal" text-anchor="middle" fill="#1a1a1a" >Cerebral cortex</text>
<text x="537.0" y="647.7" font-size="10.6" font-weight="normal" text-anchor="middle" fill="#1a1a1a" >6</text>
<text x="576.6" y="647.7" font-size="10.6" font-weight="normal" text-anchor="middle" fill="#1a1a1a" >13.6</text>
<text x="612.0" y="647.7" font-size="10.6" font-weight="normal" text-anchor="middle" fill="#1a1a1a" >29.4</text>
<text x="657.3" y="647.7" font-size="10.6" font-weight="normal" text-anchor="middle" fill="#1a1a1a" >223.6</text>
<text x="391.9" y="669.6" font-size="10.6" font-weight="normal" text-anchor="middle" fill="#1a1a1a" >Obatoclax</text>
<text x="391.9" y="681.8" font-size="10.6" font-weight="normal" text-anchor="middle" fill="#1a1a1a" >IP</text>
<text x="467.8" y="669.6" font-size="10.6" font-weight="normal" text-anchor="middle" fill="#1a1a1a" >Cerebellum/brain</text>
<text x="467.8" y="681.8" font-size="10.6" font-weight="normal" text-anchor="middle" fill="#1a1a1a" >stem</text>
<text x="537.0" y="675.7" font-size="10.6" font-weight="normal" text-anchor="middle" fill="#1a1a1a" >6</text>
<text x="576.6" y="675.7" font-size="10.6" font-weight="normal" text-anchor="middle" fill="#1a1a1a" >15.3</text>
<text x="612.0" y="675.7" font-size="10.6" font-weight="normal" text-anchor="middle" fill="#1a1a1a" >147.4</text>
<text x="657.3" y="675.7" font-size="10.6" font-weight="normal" text-anchor="middle" fill="#1a1a1a" >1326.1</text>
<text x="391.9" y="697.3" font-size="10.6" font-weight="normal" text-anchor="middle" fill="#1a1a1a" >Obatoclax</text>
<text x="391.9" y="709.5" font-size="10.6" font-weight="normal" text-anchor="middle" fill="#1a1a1a" >IP</text>
<text x="467.8" y="703.4" font-size="10.6" font-weight="normal" text-anchor="middle" fill="#1a1a1a" >Cerebral cortex</text>
<text x="537.0" y="703.4" font-size="10.6" font-weight="normal" text-anchor="middle" fill="#1a1a1a" >6</text>
<text x="576.6" y="703.4" font-size="10.6" font-weight="normal" text-anchor="middle" fill="#1a1a1a" >14.1</text>
<text x="612.0" y="703.4" font-size="10.6" font-weight="normal" text-anchor="middle" fill="#1a1a1a" >140.5</text>
<text x="657.3" y="703.4" font-size="10.6" font-weight="normal" text-anchor="middle" fill="#1a1a1a" >1324.6</text>
<text x="391.9" y="724.7" font-size="10.6" font-weight="normal" text-anchor="middle" fill="#1a1a1a" >Obatoclax</text>
<text x="391.9" y="736.9" font-size="10.6" font-weight="normal" text-anchor="middle" fill="#1a1a1a" >Oral</text>
<text x="467.8" y="724.7" font-size="10.6" font-weight="normal" text-anchor="middle" fill="#1a1a1a" >Cerebellum/brain</text>
<text x="467.8" y="736.9" font-size="10.6" font-weight="normal" text-anchor="middle" fill="#1a1a1a" >stem</text>
<text x="537.0" y="730.8" font-size="10.6" font-weight="normal" text-anchor="middle" fill="#1a1a1a" >10</text>
<text x="576.6" y="730.8" font-size="10.6" font-weight="normal" text-anchor="middle" fill="#1a1a1a" >N/A</text>
<text x="612.0" y="730.8" font-size="10.6" font-weight="normal" text-anchor="middle" fill="#1a1a1a" >136.1</text>
<text x="657.3" y="730.8" font-size="10.6" font-weight="normal" text-anchor="middle" fill="#1a1a1a" >458.1</text>
<text x="391.9" y="752.3" font-size="10.6" font-weight="normal" text-anchor="middle" fill="#1a1a1a" >Obatoclax</text>
<text x="391.9" y="764.5" font-size="10.6" font-weight="normal" text-anchor="middle" fill="#1a1a1a" >Oral</text>
<text x="467.8" y="758.4" font-size="10.6" font-weight="normal" text-anchor="middle" fill="#1a1a1a" >Cerebral cortex</text>
<text x="537.0" y="758.4" font-size="10.6" font-weight="normal" text-anchor="middle" fill="#1a1a1a" >10</text>
<text x="576.6" y="758.4" font-size="10.6" font-weight="normal" text-anchor="middle" fill="#1a1a1a" >N/A</text>
<text x="612.0" y="758.4" font-size="10.6" font-weight="normal" text-anchor="middle" fill="#1a1a1a" >141.8</text>
<text x="657.3" y="758.4" font-size="10.6" font-weight="normal" text-anchor="middle" fill="#1a1a1a" >437.9</text>
<line x1="361.2" x2="361.2" y1="572.4" y2="768" stroke="#2a2a2a" stroke-width="1"/>
<line x1="422.5" x2="422.5" y1="572.4" y2="768" stroke="#2a2a2a" stroke-width="1"/>
<line x1="513" x2="513" y1="572.4" y2="768" stroke="#2a2a2a" stroke-width="1"/>
<line x1="560.9" x2="560.9" y1="572.4" y2="768" stroke="#2a2a2a" stroke-width="1"/>
<line x1="592.4" x2="592.4" y1="572.4" y2="768" stroke="#2a2a2a" stroke-width="1"/>
<line x1="631.6" x2="631.6" y1="572.4" y2="768" stroke="#2a2a2a" stroke-width="1"/>
<line x1="683" x2="683" y1="572.4" y2="768" stroke="#2a2a2a" stroke-width="1"/>
<line x1="361.2" x2="683" y1="572.4" y2="572.4" stroke="#2a2a2a" stroke-width="1"/>
<line x1="361.2" x2="683" y1="602.2" y2="602.2" stroke="#2a2a2a" stroke-width="1"/>
<line x1="361.2" x2="683" y1="629.5" y2="629.5" stroke="#2a2a2a" stroke-width="1"/>
<line x1="361.2" x2="683" y1="657.3" y2="657.3" stroke="#2a2a2a" stroke-width="1"/>
<line x1="361.2" x2="683" y1="685.4" y2="685.4" stroke="#2a2a2a" stroke-width="1"/>
<line x1="361.2" x2="683" y1="712.7" y2="712.7" stroke="#2a2a2a" stroke-width="1"/>
<line x1="361.2" x2="683" y1="740.2" y2="740.2" stroke="#2a2a2a" stroke-width="1"/>
<line x1="361.2" x2="683" y1="768" y2="768" stroke="#2a2a2a" stroke-width="1"/>
</g>
</g>
</svg>
</body></html>
